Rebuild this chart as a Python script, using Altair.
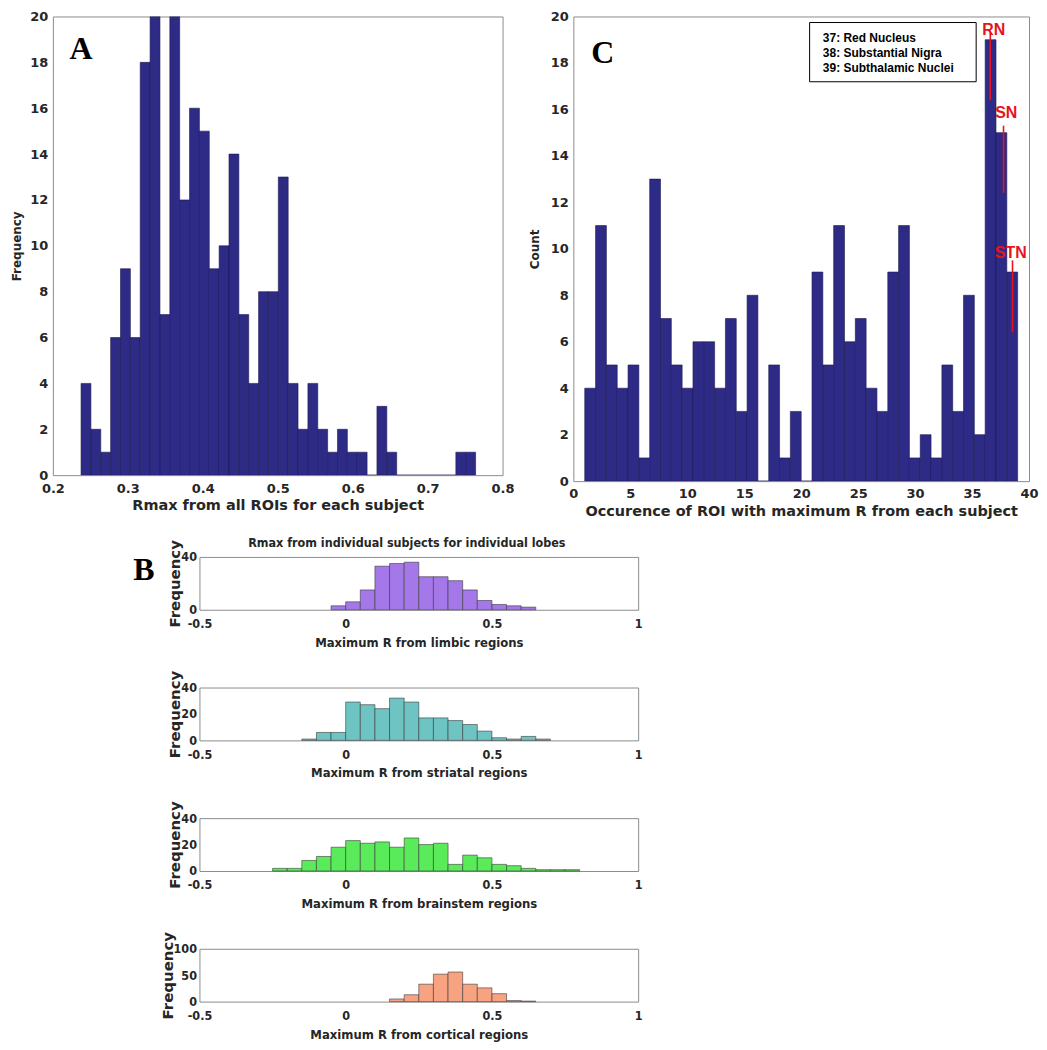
import altair as alt
import pandas as pd

# ---------------- data ----------------
A_COUNTS = [4, 2, 1, 6, 9, 6, 18, 20, 7, 20, 12, 16, 15, 9, 10, 14, 7, 4, 8, 8,
            13, 4, 2, 4, 2, 1, 2, 1, 1, 0, 3, 1, 0, 0, 0, 0, 0, 0, 1, 1]
A_BIN_START = 0.2376
A_BIN_WIDTH = 0.01316
A_X_TICKS = [0.2, 0.3, 0.4, 0.5, 0.6, 0.7, 0.8]
A_Y_TICKS = [0, 2, 4, 6, 8, 10, 12, 14, 16, 18, 20]

C_COUNTS = [4, 11, 5, 4, 5, 1, 13, 7, 5, 4, 6, 6, 4, 7, 3, 8, 0, 5, 1, 3,
            0, 9, 5, 11, 6, 7, 4, 3, 9, 11, 1, 2, 1, 5, 3, 8, 2, 19, 15, 9]
C_BIN_START = 1.0
C_BIN_WIDTH = 0.95
C_X_TICKS = [0, 5, 10, 15, 20, 25, 30, 35, 40]
C_Y_TICKS = [0, 2, 4, 6, 8, 10, 12, 14, 16, 18, 20]
LEGEND_LINES = ["37:  Red Nucleus", "38: Substantial Nigra", "39: Subthalamic Nuclei"]
LEGEND_LINE_Y = [19.08, 18.44, 17.8]
LEGEND_TEXT_X = [21.9, 21.9, 21.9]
LEGEND_BOX_X = [20.74]
LEGEND_BOX_X2 = [35.36]
LEGEND_BOX_Y = [19.74]
LEGEND_BOX_Y2 = [17.19]
ROI_LABELS = ["RN", "SN", "STN"]
ROI_LINE_X = [36.6, 37.76, 38.55]
ROI_LINE_TOP = [19.3, 15.3, 9.5]
ROI_LINE_BOTTOM = [16.4, 12.4, 6.4]
ROI_LABEL_X = [36.9, 38.0, 38.4]
ROI_LABEL_Y = [19.4, 15.85, 9.8]

B_X_TICKS = [-0.5, 0, 0.5, 1]
B_BIN_WIDTH = 0.05
LIMBIC_START = -0.05
LIMBIC_COUNTS = [3, 6, 15, 33, 35, 36, 25, 25, 22, 15, 7, 4, 3, 2]
STRIATAL_START = -0.15
STRIATAL_COUNTS = [1, 6, 6, 29, 27, 24, 32, 29, 17, 17, 15, 12, 7, 2, 1, 3, 1]
BRAINSTEM_START = -0.25
BRAINSTEM_COUNTS = [2, 2, 8, 11, 18, 23, 21, 22, 18, 25, 20, 21, 5, 12, 10, 5, 4, 2, 1, 1, 1]
CORTICAL_START = 0.15
CORTICAL_COUNTS = [5, 13, 33, 52, 56, 33, 26, 15, 2, 1]

# ---------------- style ----------------
FONT = "DejaVu Sans"
COND = "DejaVu Sans Condensed"
TXT = "#262626"
NAVY = "#2e2b87"
RED = "#e8141b"


def hist_frame(start, width, counts):
    return pd.DataFrame({
        "lo": [start + i * width for i in range(len(counts))],
        "hi": [start + (i + 1) * width for i in range(len(counts))],
        "n": counts,
    })


# ---------------- panel A ----------------
a_df = hist_frame(A_BIN_START, A_BIN_WIDTH, A_COUNTS)
a_xs = alt.Scale(domain=[0.2, 0.8], nice=False, zero=False)
a_ys = alt.Scale(domain=[0, 20], nice=False)
a_bars = alt.Chart(a_df).mark_bar(color=NAVY, stroke="#1b1a50", strokeWidth=0.6, clip=True).encode(
    x=alt.X("lo:Q", scale=a_xs, axis=alt.Axis(
        values=A_X_TICKS, format=".1f", title="Rmax from all ROIs for each subject",
        labelFont=FONT, labelFontSize=13, labelPadding=7, labelFlush=False,
        titleFont=FONT, titleFontSize=14.5, titlePadding=3)),
    x2="hi:Q",
    y=alt.Y("n:Q", scale=a_ys, axis=alt.Axis(
        values=A_Y_TICKS, title="Frequency", labelFont=FONT, labelFontSize=13,
        labelPadding=5, titleFont=FONT, titleFontSize=12, titlePadding=6)),
    y2=alt.datum(0),
)
a_letter = alt.Chart(pd.DataFrame({"lo": [0.2376], "n": [18.56], "t": ["A"]})).mark_text(
    font="Liberation Serif", fontWeight="bold", fontSize=32, color="black",
    align="center", baseline="middle").encode(
    x=alt.X("lo:Q", scale=a_xs), y=alt.Y("n:Q", scale=a_ys), text="t:N")
panel_a = alt.layer(a_bars, a_letter).properties(width=451, height=460)

# ---------------- panel C ----------------
c_df = hist_frame(C_BIN_START, C_BIN_WIDTH, C_COUNTS)
c_xs = alt.Scale(domain=[0, 40], nice=False, zero=False)
c_ys = alt.Scale(domain=[0, 20], nice=False)
c_bars = alt.Chart(c_df).mark_bar(color=NAVY, stroke="#1b1a50", strokeWidth=0.6, clip=True).encode(
    x=alt.X("lo:Q", scale=c_xs, axis=alt.Axis(
        values=C_X_TICKS, format="d", title="Occurence of ROI with maximum R from each subject",
        labelFont=FONT, labelFontSize=13, labelPadding=6, labelFlush=False,
        titleFont=FONT, titleFontSize=14.5, titlePadding=4)),
    x2="hi:Q",
    y=alt.Y("n:Q", scale=c_ys, axis=alt.Axis(
        values=C_Y_TICKS, title="Count", labelFont=FONT, labelFontSize=13,
        labelPadding=5, titleFont=FONT, titleFontSize=12, titlePadding=9)),
    y2=alt.datum(0),
)
box_df = pd.DataFrame({"lo": LEGEND_BOX_X, "hi": LEGEND_BOX_X2, "n": LEGEND_BOX_Y, "n2": LEGEND_BOX_Y2})
c_box = alt.Chart(box_df).mark_rect(fill="white", stroke="black", strokeWidth=1).encode(
    x=alt.X("lo:Q", scale=c_xs), x2="hi:Q",
    y=alt.Y("n:Q", scale=c_ys), y2="n2:Q")
leg_df = pd.DataFrame({"lo": LEGEND_TEXT_X, "n": LEGEND_LINE_Y, "t": LEGEND_LINES})
c_leg = alt.Chart(leg_df).mark_text(
    font="Liberation Sans", fontWeight="bold", fontSize=12, color="black",
    align="left", baseline="middle").encode(
    x=alt.X("lo:Q", scale=c_xs), y=alt.Y("n:Q", scale=c_ys), text="t:N")
roi_line_df = pd.DataFrame({"lo": ROI_LINE_X, "n": ROI_LINE_TOP, "n2": ROI_LINE_BOTTOM})
c_rules = alt.Chart(roi_line_df).mark_rule(color=RED, strokeWidth=1.6).encode(
    x=alt.X("lo:Q", scale=c_xs),
    y=alt.Y("n:Q", scale=c_ys), y2="n2:Q")
roi_text_df = pd.DataFrame({"lo": ROI_LABEL_X, "n": ROI_LABEL_Y, "t": ROI_LABELS})
c_roi_text = alt.Chart(roi_text_df).mark_text(
    font="Liberation Sans", fontWeight="bold", fontSize=16, color=RED,
    align="center", baseline="middle").encode(
    x=alt.X("lo:Q", scale=c_xs), y=alt.Y("n:Q", scale=c_ys), text="t:N")
c_letter = alt.Chart(pd.DataFrame({"lo": [2.58], "n": [18.44], "t": ["C"]})).mark_text(
    font="Liberation Serif", fontWeight="bold", fontSize=32, color="black",
    align="center", baseline="middle").encode(
    x=alt.X("lo:Q", scale=c_xs), y=alt.Y("n:Q", scale=c_ys), text="t:N")
panel_c = alt.layer(c_bars, c_box, c_leg, c_rules, c_roi_text, c_letter).properties(width=457, height=466)


# ---------------- panel B ----------------
def b_panel(start, counts, color, xtitle, ymax, yticks, title=None, letter=False):
    df = hist_frame(start, B_BIN_WIDTH, counts)
    xs = alt.Scale(domain=[-0.5, 1], nice=False, zero=False)
    ys = alt.Scale(domain=[0, ymax], nice=False)
    bars = alt.Chart(df).mark_bar(color=color, stroke="#3a3a3a", strokeWidth=0.6).encode(
        x=alt.X("lo:Q", scale=xs, axis=alt.Axis(
            values=B_X_TICKS, labelExpr="toString(datum.value)", title=xtitle,
            labelFont=COND, labelFontSize=12.5, labelPadding=8, labelFlush=False,
            titleFont=COND, titleFontSize=13, titlePadding=6)),
        x2="hi:Q",
        y=alt.Y("n:Q", scale=ys, axis=alt.Axis(
            values=yticks, title="Frequency", labelFont=COND, labelFontSize=12.5,
            labelPadding=3, titleFont=FONT, titleFontSize=15, titlePadding=-2)),
        y2=alt.datum(0),
    )
    layers = [bars]
    if letter:
        ldf = pd.DataFrame({"lo": [-0.69], "n": [30.2], "t": ["B"]})
        layers.append(alt.Chart(ldf).mark_text(
            font="Liberation Serif", fontWeight="bold", fontSize=32, color="black",
            align="center", baseline="middle").encode(
            x=alt.X("lo:Q", scale=xs), y=alt.Y("n:Q", scale=ys), text="t:N"))
    ch = alt.layer(*layers).properties(width=440, height=53)
    if title:
        ch = ch.properties(title=alt.TitleParams(
            title, font=COND, fontSize=12.5, fontWeight="bold", color=TXT,
            anchor="middle", frame="group", offset=-10, dx=-12))
    return ch


limbic = b_panel(LIMBIC_START, LIMBIC_COUNTS, "#a478e8", "Maximum R from limbic regions",
                 40, [0, 20, 40], title="Rmax from individual subjects for individual lobes", letter=True)
striatal = b_panel(STRIATAL_START, STRIATAL_COUNTS, "#6ec3c3", "Maximum R from striatal regions",
                   40, [0, 20, 40])
brainstem = b_panel(BRAINSTEM_START, BRAINSTEM_COUNTS, "#5aeb5a", "Maximum R from brainstem regions",
                    40, [0, 20, 40])
cortical = b_panel(CORTICAL_START, CORTICAL_COUNTS, "#f7a280", "Maximum R from cortical regions",
                   100, [0, 50, 100])

b_stack = alt.vconcat(limbic, striatal, brainstem, cortical, spacing=78, bounds="flush")
spacer = alt.Chart(pd.DataFrame({"v": []})).mark_point(opacity=0).encode(
    x=alt.value(0), y=alt.value(0)).properties(width=80, height=10, view=alt.ViewBackground(stroke=None))

row1 = alt.hconcat(panel_a, panel_c, spacing=71, bounds="flush")
row2 = alt.hconcat(spacer, b_stack, spacing=0)

chart = alt.vconcat(row1, row2, spacing=18).properties(
    padding={"left": 2, "top": 0, "right": 0, "bottom": 0}
).configure_view(stroke="#8c8c8c", strokeWidth=1).configure_axis(
    grid=False, domain=False, ticks=False, labelColor=TXT, titleColor=TXT,
    labelFontWeight="bold", titleFontWeight="bold")

chart.save("out.html", embed_options={"renderer": "svg", "actions": False})
